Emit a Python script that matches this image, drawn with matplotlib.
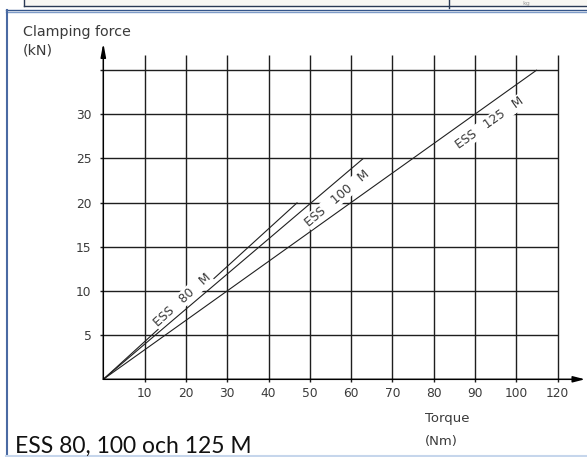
import numpy as np
import matplotlib
matplotlib.use("Agg")
import matplotlib.pyplot as plt
from matplotlib.lines import Line2D
from matplotlib.patches import Rectangle

# ---- data ----
series_names = ["ESS   80   M", "ESS   100   M", "ESS   125   M"]
series_torque = [[0, 47], [0, 63], [0, 105]]      # Nm
series_force = [[0, 20], [0, 25], [0, 35]]         # kN
x_grid = [10, 20, 30, 40, 50, 60, 70, 80, 90, 100, 110]
x_labels = ["10", "20", "30", "40", "50", "60", "70", "80", "90", "100", "120"]
y_grid = [5, 10, 15, 20, 25, 30, 35]
y_labels = ["5", "10", "15", "20", "25", "30", ""]

W, H = 587, 457
fig = plt.figure(figsize=(W / 100, H / 100), dpi=100)
fig.patch.set_facecolor("white")

def fx(px):
    return px / W

def fy(py):
    return 1 - py / H

# axes geometry (pixels)
ox, oy = 103.3, 379.3
sx, sy = 4.13, 8.84
right_px, top_px = 587, 40
xmax = (right_px - ox) / sx
ymax = (oy - top_px) / sy
ax = fig.add_axes([fx(ox), 1 - oy / H, (right_px - ox) / W, (oy - top_px) / H])
ax.set_xlim(0, xmax)
ax.set_ylim(0, ymax)
ax.set_facecolor("none")
for s in ax.spines.values():
    s.set_visible(False)

grid_col = "#1e1e1e"
text_col = "#3a3a3a"
gy_top = (oy - 55) / sy
ax.vlines(x_grid, 0, gy_top, color=grid_col, lw=1.0, zorder=1)
ax.hlines(y_grid, 0, x_grid[-1], color=grid_col, lw=1.0, zorder=1)

ax.set_xticks(x_grid)
ax.set_xticklabels(x_labels)
ax.set_yticks(y_grid)
ax.set_yticklabels(y_labels)
ax.tick_params(axis="both", direction="out", length=2.4, width=1.0, color=grid_col,
               labelsize=8.8, labelcolor=text_col)
ax.tick_params(axis="x", pad=3.5)
ax.tick_params(axis="y", pad=6)

# axes with arrows
x_end = (585 - ox) / sx
y_end = (oy - 43) / sy
ax.annotate("", xy=(x_end, 0), xytext=(0, 0), annotation_clip=False,
            arrowprops=dict(arrowstyle="-|>,head_length=0.7,head_width=0.18",
                            color="black", lw=1.1, shrinkA=0, shrinkB=0), zorder=3)
ax.annotate("", xy=(0, y_end), xytext=(0, 0), annotation_clip=False,
            arrowprops=dict(arrowstyle="-|>,head_length=0.8,head_width=0.15",
                            color="black", lw=1.1, shrinkA=0, shrinkB=0), zorder=3)

# series lines
for xs, ys in zip(series_torque, series_force):
    ax.plot(xs, ys, color="#202020", lw=0.8, zorder=2, solid_capstyle="butt")

# series labels, rotated to the on-screen angle of each line
label_pos = [(19.1, 9.0), (56.7, 20.5), (93.6, 29.0)]
for name, xs, ys, (lx, ly) in zip(series_names, series_torque, series_force, label_pos):
    slope = (ys[1] - ys[0]) / (xs[1] - xs[0])
    ang = np.degrees(np.arctan(slope * sy / sx))
    ax.text(lx, ly, name, rotation=ang,
            rotation_mode="anchor", ha="center", va="center", fontsize=8.8,
            color=text_col, zorder=4,
            bbox=dict(boxstyle="square,pad=0.08", fc="white", ec="none"))

# axis titles
fig.text(fx(23), fy(36), "Clamping force", fontsize=10.3, color=text_col, va="baseline")
fig.text(fx(23), fy(55), "(kN)", fontsize=10.3, color=text_col, va="baseline")
fig.text(fx(425), fy(422), "Torque", fontsize=9.5, color=text_col, va="baseline")
fig.text(fx(425), fy(445), "(Nm)", fontsize=9.5, color=text_col, va="baseline")

# caption
fig.text(fx(15), fy(452.5), "ESS 80, 100 och 125 M", fontsize=16.5, family="Lato",
         color="#111111", va="baseline")

# page frame decorations
fig.add_artist(Rectangle((fx(24), fy(6)), fx(587 - 24), 6 / H, transform=fig.transFigure,
                         fc="#f8f7f3", ec="none", zorder=0))
fig.add_artist(Line2D([fx(24), fx(24)], [fy(0), fy(6)], color="#2b3a55", lw=1.0))
fig.add_artist(Line2D([fx(24), fx(587)], [fy(6), fy(6)], color="#2b3a55", lw=1.0))
fig.add_artist(Line2D([fx(449), fx(449)], [fy(0), fy(8)], color="#2b3a55", lw=1.0))
fig.text(fx(522), fy(4.5), "kg", fontsize=4.5, color="#999999", va="baseline")
fig.add_artist(Line2D([fx(6), fx(587)], [fy(10), fy(10)], color="#34558a", lw=1.0))
fig.add_artist(Line2D([fx(6), fx(587)], [fy(11.8), fy(11.8)], color="#7f9cc8", lw=1.0))
fig.add_artist(Line2D([fx(6.5), fx(6.5)], [fy(10), fy(457)], color="#4a6aa3", lw=1.5))
fig.add_artist(Line2D([fx(6), fx(587)], [fy(455.8), fy(455.8)], color="#c6d6ec", lw=1.5))

fig.savefig("out.png", dpi=100, facecolor="white")
